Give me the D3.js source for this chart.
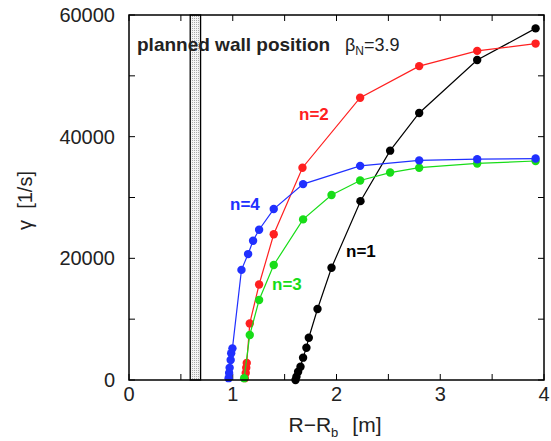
<!DOCTYPE html>
<html>
<head>
<meta charset="utf-8">
<script src="https://d3js.org/d3.v7.min.js"></script>
<style>
body { margin: 0; background: #fff; }
text { font-family: "Liberation Sans", Arial, sans-serif; }
</style>
</head>
<body>
<svg width="551" height="441"></svg>
<script>
// growth rate vs wall distance, one curve per toroidal mode n
var n1x = [1.605, 1.614, 1.63, 1.653, 1.678, 1.71, 1.733, 1.817, 1.952, 2.231, 2.517, 2.797, 3.356, 3.919];
var n1y = [0, 550, 1370, 2190, 3670, 5310, 6950, 11670, 18460, 29400, 37700, 43900, 52600, 57800];

var n2x = [1.116, 1.125, 1.13, 1.135, 1.164, 1.254, 1.395, 1.672, 2.228, 2.797, 3.356, 3.919];
var n2y = [300, 1150, 2000, 2800, 9300, 15700, 23950, 34900, 46400, 51600, 54100, 55300];

var n3x = [1.11, 1.164, 1.254, 1.395, 1.678, 1.952, 2.228, 2.517, 2.797, 3.356, 3.919];
var n3y = [300, 7400, 13150, 18900, 26400, 30400, 32800, 34100, 34900, 35600, 36000];

var n4x = [0.96, 0.965, 0.97, 0.98, 0.985, 0.997, 1.084, 1.148, 1.196, 1.254, 1.395, 1.678, 2.228, 2.797, 3.356, 3.919];
var n4y = [300, 1150, 2000, 3300, 4400, 5200, 18100, 20700, 22900, 24700, 28100, 32200, 35200, 36100, 36300, 36400];

var wallPos = [0.59, 0.69];
var xTickLabels = [0, 1, 2, 3, 4];
var yTickLabels = [0, 20000, 40000, 60000];

var series = [
  {name: "n=1", xs: n1x, ys: n1y, color: "#000000", lx: 346, ly: 257},
  {name: "n=2", xs: n2x, ys: n2y, color: "#ff2020", lx: 299, ly: 120},
  {name: "n=3", xs: n3x, ys: n3y, color: "#18dd18", lx: 272, ly: 290},
  {name: "n=4", xs: n4x, ys: n4y, color: "#2030ff", lx: 230, ly: 210}
];

// plot box (window.top is reserved, so no bare "top")
var pL = 129, pR = 544, pT = 15, pB = 380;
var svg = d3.select("svg");

var x = d3.scaleLinear().domain([0, 4]).range([pL, pR]);
var y = d3.scaleLinear().domain([0, 60000]).range([pB, pT]);

// stippled fill for the wall band
var pat = svg.append("defs").append("pattern")
  .attr("id", "dots").attr("width", 2).attr("height", 2)
  .attr("patternUnits", "userSpaceOnUse");
pat.append("rect").attr("width", 2).attr("height", 2).attr("fill", "#f4f4f4");
pat.append("rect").attr("width", 1).attr("height", 1).attr("fill", "#aaa");

svg.append("rect")
  .attr("x", x(wallPos[0])).attr("y", pT)
  .attr("width", x(wallPos[1]) - x(wallPos[0]))
  .attr("height", pB - pT)
  .attr("fill", "url(#dots)")
  .attr("stroke", "#000").attr("stroke-width", 1.3);

// ticks on all four sides
var xt = d3.range(0, 4.01, 0.5);
var yt = d3.range(0, 60001, 10000);
var tk = svg.append("g").attr("stroke", "#000").attr("stroke-width", 1);
xt.forEach(function(v) {
  tk.append("line").attr("x1", x(v)).attr("x2", x(v)).attr("y1", pB).attr("y2", pB - 6);
  tk.append("line").attr("x1", x(v)).attr("x2", x(v)).attr("y1", pT).attr("y2", pT + 6);
});
yt.forEach(function(v) {
  tk.append("line").attr("x1", pL).attr("x2", pL + 6).attr("y1", y(v)).attr("y2", y(v));
  tk.append("line").attr("x1", pR).attr("x2", pR - 6).attr("y1", y(v)).attr("y2", y(v));
});

svg.selectAll(".xl").data(xTickLabels).enter().append("text")
  .attr("x", function(d) { return x(d); }).attr("y", 401)
  .attr("text-anchor", "middle").style("font-size", "20px").attr("fill", "#222")
  .text(function(d) { return d; });

svg.selectAll(".yl").data(yTickLabels).enter().append("text")
  .attr("x", 115).attr("y", function(d) { return y(d) + 7; })
  .attr("text-anchor", "end").style("font-size", "20px").attr("fill", "#222")
  .text(function(d) { return d; });

// curves
var line = d3.line().x(function(d) { return x(d[0]); }).y(function(d) { return y(d[1]); });
series.forEach(function(s) {
  var pts = s.xs.map(function(v, i) { return [v, s.ys[i]]; });
  var g = svg.append("g");
  g.append("path").attr("d", line(pts)).attr("fill", "none")
    .attr("stroke", s.color).attr("stroke-width", 1.2);
  g.selectAll("circle").data(pts).enter().append("circle")
    .attr("cx", function(d) { return x(d[0]); })
    .attr("cy", function(d) { return y(d[1]); })
    .attr("r", 4.2).attr("fill", s.color).style("stroke", "none");
  svg.append("text").attr("x", s.lx).attr("y", s.ly)
    .style("font-size", "17px").style("font-weight", "bold")
    .attr("fill", s.color).text(s.name);
});

// frame
svg.append("rect").attr("x", pL).attr("y", pT)
  .attr("width", pR - pL).attr("height", pB - pT)
  .attr("fill", "none").attr("stroke", "#000").attr("stroke-width", 1.5);

// annotation
svg.append("text").attr("x", 137).attr("y", 51)
  .style("font-size", "19px").style("font-weight", "bold").attr("fill", "#222")
  .text("planned wall position");
var bt = svg.append("text").attr("x", 345).attr("y", 51)
  .style("font-size", "18px").attr("fill", "#222");
bt.append("tspan").text("β");
bt.append("tspan").attr("dy", 4).style("font-size", "12px").text("N");
bt.append("tspan").attr("dy", -4).text("=3.9");

// axis titles
var xtl = svg.append("text").attr("x", 335).attr("y", 432)
  .attr("text-anchor", "middle").style("font-size", "21px").attr("fill", "#222");
xtl.append("tspan").text("R−R");
xtl.append("tspan").attr("dy", 5).style("font-size", "13px").text("b");
xtl.append("tspan").attr("dy", -5).attr("dx", 14).text("[m]");

svg.append("text")
  .attr("transform", "translate(32," + ((pT + pB) / 2 + 3) + ") rotate(-90)")
  .attr("text-anchor", "middle").style("font-size", "20px").attr("fill", "#222")
  .text("γ\u00a0\u00a0[1/s]");
</script>
</body>
</html>
